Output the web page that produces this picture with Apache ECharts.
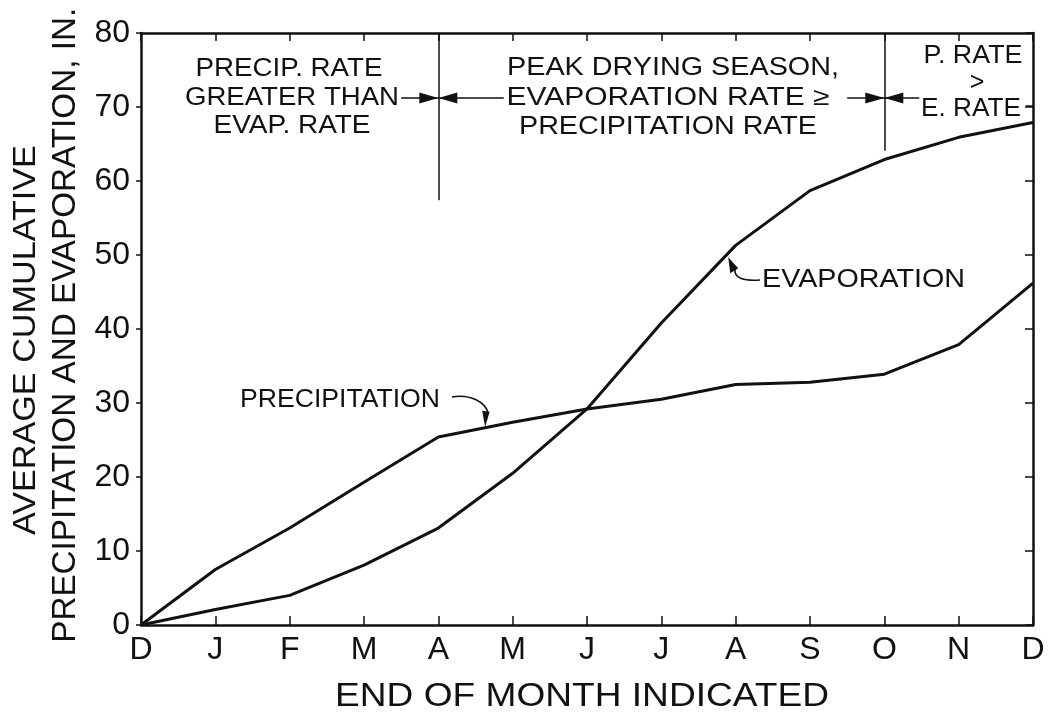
<!DOCTYPE html>
<html><head><meta charset="utf-8">
<script src="https://cdn.jsdelivr.net/npm/echarts@6/dist/echarts.min.js"></script>
<style>html,body{margin:0;padding:0;background:#fff}#c{width:1049px;height:721px}</style>
</head><body><div id="c"></div>
<script>
// ---- data ----
const months = ['D','J','F','M','A','M','J','J','A','S','O','N','D'];
const precipitation = [0, 7.5, 13.1, 19.3, 25.4, 27.4, 29.2, 30.5, 32.5, 32.8, 33.9, 37.9, 46.2];
const evaporation   = [0, 2.1, 4.0, 8.1, 13.1, 20.5, 29.2, 40.8, 51.3, 58.7, 62.9, 65.9, 67.9];
const yTicks = [0, 10, 20, 30, 40, 50, 60, 70, 80];
const seasonBounds = [4, 10]; // month index of the season dividers (end of April, end of October)

const FONT = "'Liberation Sans', Arial, sans-serif";
const FAM = "Liberation Sans";
const BLACK = '#111';

const chart = echarts.init(document.getElementById('c'), null, {renderer: 'canvas'});

const pairs = arr => arr.map((v, i) => [i, v]);
const lineY = 71.2;
const arrows = [ // [from x, to x (divider)]
  [3.5, seasonBounds[0]], [4.88, seasonBounds[0]],
  [9.5, seasonBounds[1]], [10.47, seasonBounds[1]]
];
const mlData = [
  [{coord: [seasonBounds[0], 57.4]}, {coord: [seasonBounds[0], yTicks[yTicks.length - 1]]}],
  [{coord: [seasonBounds[1], 64.1]}, {coord: [seasonBounds[1], yTicks[yTicks.length - 1]]}],
  ...arrows.map(a => [{coord: [a[0], lineY]}, {coord: [a[1], lineY]}]),
  [{coord: [11.9, 70.2]}, {coord: [12, 70.2]}]
];

const axisLineStyle = {color: BLACK, width: 2.5};
const option = {
  animation: false,
  backgroundColor: '#fff',
  grid: {left: 141, right: 16, top: 33, bottom: 96, containLabel: false},
  xAxis: [
    {type: 'value', min: 0, max: 12, interval: 1, position: 'bottom',
     axisLine: {show: true, onZero: false, lineStyle: axisLineStyle},
     axisTick: {show: true, inside: true, length: 9, lineStyle: {color: BLACK, width: 1.5}},
     axisLabel: {formatter: v => months[v], fontSize: 32, color: BLACK, margin: 9, fontFamily: FONT},
     splitLine: {show: false}},
    {type: 'value', min: 0, max: 12, interval: 1, position: 'top',
     axisLine: {show: true, onZero: false, lineStyle: axisLineStyle},
     axisTick: {show: true, inside: true, length: 8, lineStyle: {color: BLACK, width: 1.5}},
     axisLabel: {show: false}, splitLine: {show: false}}
  ],
  yAxis: [
    {type: 'value', min: 0, max: 80, interval: 10, position: 'left',
     axisLine: {show: true, onZero: false, lineStyle: axisLineStyle},
     axisTick: {show: true, inside: false, length: 5, lineStyle: {color: BLACK, width: 1.5}},
     axisLabel: {fontSize: 32, color: BLACK, margin: 11, fontFamily: FONT},
     splitLine: {show: false}},
    {type: 'value', min: 0, max: 80, interval: 10, position: 'right',
     axisLine: {show: true, onZero: false, lineStyle: axisLineStyle},
     axisTick: {show: true, inside: true, length: 8, lineStyle: {color: BLACK, width: 1.5}},
     axisLabel: {show: false}, splitLine: {show: false}}
  ],
  series: [
    {name: 'PRECIPITATION', type: 'line', data: pairs(precipitation), symbol: 'none',
     lineStyle: {color: BLACK, width: 3}, silent: true,
     markLine: {silent: true, symbol: ['none', 'none'],
       label: {show: false}, lineStyle: {color: BLACK, width: 1.5, type: 'solid'},
       emphasis: {disabled: true}, data: mlData}},
    {name: 'EVAPORATION', type: 'line', data: pairs(evaporation), symbol: 'none',
     lineStyle: {color: BLACK, width: 3}, silent: true}
  ]
};
chart.setOption(option);

// ---- annotations anchored to data coordinates ----
const P = (x, y) => chart.convertToPixel({xAxisIndex: 0, yAxisIndex: 0}, [x, y]);
const ctx = document.createElement('canvas').getContext('2d');
function measure(text, size) { ctx.font = size + 'px "' + FAM + '"'; return ctx.measureText(text).width; }
function label(text, cx, cy, size, w, rot) {
  const s = w ? w / measure(text, size) : 1;
  return {type: 'text', x: cx, y: cy, rotation: rot || 0, scaleX: s, scaleY: 1, silent: true,
    style: {text: text, x: 0, y: 0, fill: BLACK, fontSize: size, fontFamily: FONT,
      textAlign: 'center', textVerticalAlign: 'middle'}};
}
const px = v => P(v, 0)[0];
const py = v => P(0, v)[1];
const g = [];
// arrowheads at the season dividers
arrows.forEach(a => {
  const tip = P(a[1], lineY), dir = a[0] < a[1] ? -1 : 1;
  const L = 19, W = 5.5;
  g.push({type: 'polygon', silent: true,
    shape: {points: [[tip[0], tip[1]], [tip[0] + dir * L, tip[1] - W], [tip[0] + dir * L, tip[1] + W]]},
    style: {fill: BLACK}});
});
// axis titles
g.push(label('END OF MONTH INDICATED', (px(0) + px(12)) / 2 - 5, 697, 34, 494));
g.push(label('AVERAGE CUMULATIVE', 26, py(38.5), 31, 390, Math.PI / 2));
g.push(label('PRECIPITATION AND EVAPORATION, IN.', 66, py(40.5), 33, 635, Math.PI / 2));
// season text blocks
const fs = 25;
g.push(label('PRECIP. RATE', 289, 69, fs, 187));
g.push(label('GREATER THAN', 292, 98, fs, 214));
g.push(label('EVAP. RATE', 292, 126, fs, 157));
g.push(label('PEAK DRYING SEASON,', 673, 68, fs, 332));
g.push(label('EVAPORATION RATE \u2265', 668, 98, fs, 323));
g.push(label('PRECIPITATION RATE', 668, 127, fs, 298));
g.push(label('P. RATE', 973, 56, fs, 99));
g.push(label('>', 977, 83, fs, 0));
g.push(label('E. RATE', 971, 109, fs, 100));
// curve labels
g.push({type: 'text', x: 240, y: 400, silent: true, scaleX: 200 / measure('PRECIPITATION', 25),
  style: {text: 'PRECIPITATION', x: 0, y: 0, fill: BLACK, fontSize: 25, fontFamily: FONT, textAlign: 'left', textVerticalAlign: 'middle'}});
g.push({type: 'text', x: 762, y: 280, silent: true, scaleX: 203 / measure('EVAPORATION', 25),
  style: {text: 'EVAPORATION', x: 0, y: 0, fill: BLACK, fontSize: 25, fontFamily: FONT, textAlign: 'left', textVerticalAlign: 'middle'}});
// curved pointer arrows
const pTip = P(4.63, precipitation[4] + 0.63 * (precipitation[5] - precipitation[4]));
g.push({type: 'bezierCurve', silent: true,
  shape: {x1: 452, y1: 397, cpx1: 470, cpy1: 394, cpx2: 486, cpy2: 402, x2: pTip[0] + 3, y2: pTip[1] - 14},
  style: {stroke: BLACK, lineWidth: 1.6, fill: null}});
g.push({type: 'polygon', silent: true,
  shape: {points: [[pTip[0], pTip[1] - 1], [pTip[0] - 3, pTip[1] - 17], [pTip[0] + 4.5, pTip[1] - 16]]},
  style: {fill: BLACK}});
const eTip = P(7.9, 49.7);
g.push({type: 'bezierCurve', silent: true,
  shape: {x1: 760, y1: 280, cpx1: 745, cpy1: 281, cpx2: 733, cpy2: 279, x2: eTip[0] + 7, y2: eTip[1] + 11},
  style: {stroke: BLACK, lineWidth: 1.6, fill: null}});
g.push({type: 'polygon', silent: true,
  shape: {points: [[eTip[0], eTip[1]], [eTip[0] + 2, eTip[1] + 16], [eTip[0] + 10, eTip[1] + 11]]},
  style: {fill: BLACK}});
chart.setOption({graphic: g});
</script></body></html>
